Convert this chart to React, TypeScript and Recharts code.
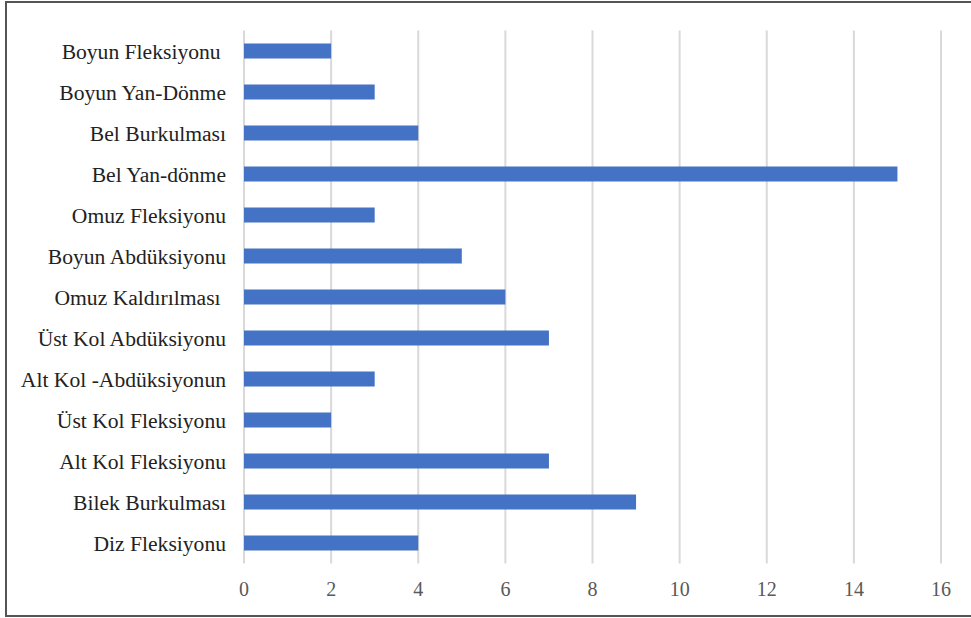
import { Bar, BarChart, CartesianGrid, XAxis, YAxis } from "recharts"

const categories = [
  "Boyun Fleksiyonu ",
  "Boyun Yan-Dönme",
  "Bel Burkulması",
  "Bel Yan-dönme",
  "Omuz Fleksiyonu",
  "Boyun Abdüksiyonu",
  "Omuz Kaldırılması ",
  "Üst Kol Abdüksiyonu",
  "Alt Kol -Abdüksiyonun",
  "Üst Kol Fleksiyonu",
  "Alt Kol Fleksiyonu",
  "Bilek Burkulması",
  "Diz Fleksiyonu",
]
const counts = [2, 3, 4, 15, 3, 5, 6, 7, 3, 2, 7, 9, 4]
const xTicks = [0, 2, 4, 6, 8, 10, 12, 14, 16]

const data = categories.map((name, i) => ({ name, value: counts[i] }))

const font = "'Liberation Serif', 'Times New Roman', serif"

function CategoryTick(props: any) {
  const { x, y, payload } = props
  return (
    <text
      x={x - 16}
      y={y}
      dy="0.355em"
      textAnchor="end"
      fill="#222"
      fontSize={21.6}
      style={{ whiteSpace: "pre", fontFamily: font }}
    >
      {payload.value}
    </text>
  )
}

function ValueTick(props: any) {
  const { x, y, payload } = props
  return (
    <text
      x={x}
      y={y + 16}
      dy="0.71em"
      textAnchor="middle"
      fill="#595959"
      fontSize={20}
      style={{ fontFamily: font }}
    >
      {payload.value}
    </text>
  )
}

export default function App() {
  return (
    <div
      style={{
        position: "absolute",
        left: 0,
        top: 0,
        width: 971,
        height: 618,
        background: "#fff",
        fontFamily: font,
      }}
    >
      <div
        style={{
          position: "absolute",
          left: 5,
          top: 1,
          width: 980,
          height: 616,
          boxSizing: "border-box",
          border: "2px solid #555",
        }}
      />
      <div style={{ position: "absolute", left: 0, top: 0 }}>
        <BarChart
          layout="vertical"
          width={971}
          height={618}
          data={data}
          margin={{ top: 30.5, right: 30, bottom: 24.5, left: 0 }}
          barSize={15}
        >
          <CartesianGrid
            horizontal={false}
            stroke="#d9d9d9"
            strokeWidth={2}
          />
          <XAxis
            type="number"
            domain={[0, 16]}
            ticks={xTicks}
            axisLine={false}
            tickLine={false}
            tickSize={0}
            height={30}
            tick={<ValueTick />}
          />
          <YAxis
            type="category"
            dataKey="name"
            width={244}
            axisLine={false}
            tickLine={false}
            tickSize={0}
            interval={0}
            tick={<CategoryTick />}
          />
          <Bar dataKey="value" fill="#4472c4" isAnimationActive={false} />
        </BarChart>
      </div>
    </div>
  )
}
